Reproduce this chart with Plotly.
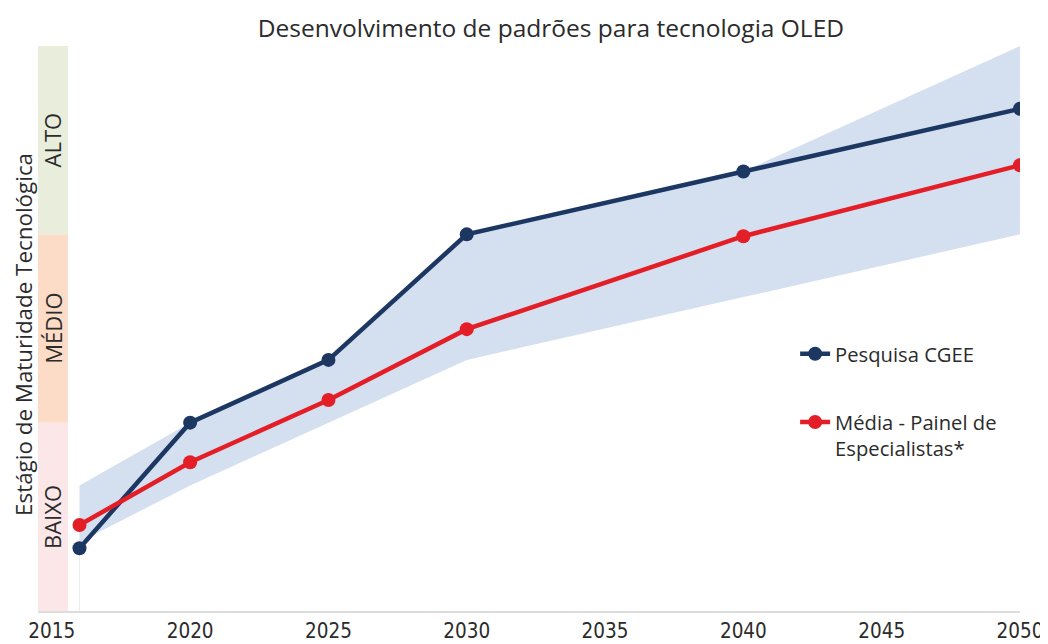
import plotly.graph_objects as go

years = [2016, 2020, 2025, 2030, 2040, 2050]
cgee = [1.0, 3.0, 4.0, 6.0, 7.0, 8.0]
painel = [1.37, 2.37, 3.36, 4.49, 5.97, 7.1]
band_upper = [2.0, 3.0, 4.0, 6.0, 7.0, 9.0]
band_lower = [1.1, 2.0, 3.0, 4.0, 5.0, 6.0]

levels = ["BAIXO", "MÉDIO", "ALTO"]
level_colors = ["#fbe7e8", "#fddcc7", "#e8eedb"]
tick_years = [2015, 2020, 2025, 2030, 2035, 2040, 2045, 2050]

NAVY = "#1d3763"
RED = "#e31e26"
BAND = "#d4dfef"
TXT = "#2b2b2b"
FONT = "'Open Sans', Lato, sans-serif"

fig = go.Figure()

fig.add_trace(go.Scatter(x=years, y=band_upper, mode="lines", line=dict(width=0),
                         fillcolor=BAND, showlegend=False, hoverinfo="skip"))
fig.add_trace(go.Scatter(x=years, y=band_lower, mode="lines", line=dict(width=0),
                         fill="tonexty", fillcolor=BAND, showlegend=False, hoverinfo="skip"))
# faint left edge of the band down to the axis
fig.add_trace(go.Scatter(x=[years[0], years[0]], y=[0, band_lower[0]], mode="lines",
                         line=dict(width=1, color="#e6edf7"), showlegend=False,
                         hoverinfo="skip"))

fig.add_trace(go.Scatter(x=years, y=cgee, mode="lines+markers", name="Pesquisa CGEE",
                         legendgroup="a",
                         line=dict(color=NAVY, width=4.5), marker=dict(color=NAVY, size=14)))
fig.add_trace(go.Scatter(x=years, y=painel, mode="lines+markers",
                         name="Média - Painel de<br>Especialistas*", legendgroup="b",
                         line=dict(color=RED, width=4.5), marker=dict(color=RED, size=14)))

# maturity level bands on the left
for i, (lab, col) in enumerate(zip(levels, level_colors)):
    fig.add_shape(type="rect", xref="x domain", yref="y", x0=0, x1=0.0305,
                  y0=i * 3, y1=(i + 1) * 3, fillcolor=col, line=dict(width=0), layer="below")
    fig.add_annotation(xref="x domain", yref="y", x=0.0145, y=i * 3 + 1.5, text=lab,
                       textangle=-90, showarrow=False, xanchor="center", yanchor="middle",
                       font=dict(family=FONT, size=22, color=TXT))

fig.add_annotation(xref="paper", yref="paper", x=-0.0155, y=0.49, xanchor="center",
                   yanchor="middle", text="Estágio de Maturidade Tecnológica",
                   textangle=-90, showarrow=False, borderpad=0,
                   font=dict(family=FONT, size=22.4, color=TXT))

fig.update_layout(
    width=1040, height=636,
    margin=dict(l=30, r=28, t=38, b=33, autoexpand=False),
    paper_bgcolor="white", plot_bgcolor="white",
    title=dict(text="Desenvolvimento de padrões para tecnologia OLED",
               x=0.522, xanchor="center", y=0.9686, yanchor="middle",
               font=dict(family=FONT, size=24.5, color=TXT)),
    xaxis=dict(range=[2014.5, 2050], tickvals=tick_years, showgrid=False, zeroline=False,
               automargin=False, ticklabeloverflow="allow",
               showline=True, linecolor="#dcdcdc", linewidth=2,
               ticks="outside", ticklen=0, tickcolor="rgba(0,0,0,0)",
               tickfont=dict(family="'Liberation Sans Narrow', 'DejaVu Sans Condensed', sans-serif",
                             size=20.5, color=TXT)),
    yaxis=dict(range=[0, 9], showgrid=False, zeroline=False, showticklabels=False,
               showline=False, automargin=False),
    legend=dict(x=0.771, y=0.49, xanchor="left", yanchor="top", valign="top",
                tracegroupgap=39, bgcolor="rgba(0,0,0,0)",
                font=dict(family=FONT, size=20.2, color=TXT)),
    showlegend=True,
)

fig.write_html("out.html")
